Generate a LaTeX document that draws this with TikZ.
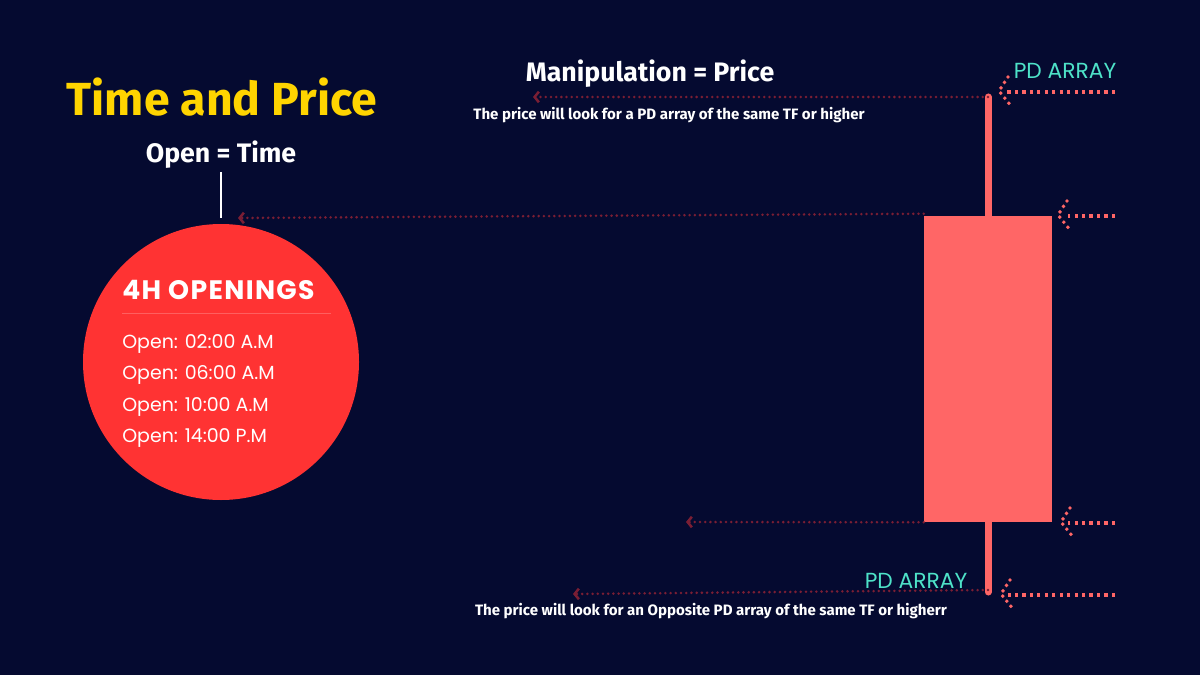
\documentclass[tikz,border=0pt]{standalone}
\usepackage{fontspec}
\setmainfont{Fira Sans}
\newfontfamily\pop{Poppins}
\newfontfamily\popwide[LetterSpace=5]{Poppins}
\usetikzlibrary{arrows.meta,positioning}

\definecolor{navy}{RGB}{5,10,48}
\definecolor{gold}{RGB}{255,212,0}
\definecolor{openred}{RGB}{255,51,51}
\definecolor{rulered}{RGB}{255,95,95}
\definecolor{candle}{RGB}{255,102,102}
\definecolor{pulldots}{RGB}{122,30,52}
\definecolor{pdcyan}{RGB}{78,226,200}

\begin{document}
\begin{tikzpicture}[x=0.025cm,y=-0.025cm]

\tikzset{
  pull/.style={draw=pulldots, line width=2pt, line cap=round,
    dash pattern=on 0pt off 3.7pt,
    -{Straight Barb[length=3pt,width=7.5pt,line width=1.8pt]}},
  push/.style={draw=candle, line width=2.3pt, dash pattern=on 2.3pt off 3pt},
  hookdots/.style={draw=candle, line width=2.8pt, line cap=round,
    dash pattern=on 0pt off 4.6pt},
  hook/.pic={\draw[hookdots] (9,-14) -- (0,0) -- (12,15);},
  headline/.style={text=white, font=\bfseries\fontsize{19}{23}\selectfont},
  note/.style={text=white, font=\bfseries\fontsize{10.7}{12}\selectfont},
  pdlabel/.style={text=pdcyan, font=\pop\fontsize{15.5}{18}\selectfont},
  opening/.style={text=white, anchor=west, inner sep=0pt,
    font=\pop\fontsize{13.5}{16}\selectfont}
}

\useasboundingbox (0,0) rectangle (1200,675);
\fill[navy] (0,0) rectangle (1200,675);

% left side: time
\node[text=gold, font=\bfseries\fontsize{33}{38}\selectfont] (title) at (222,97) {Time and Price};
\node[headline] (opentime) at (221,155) {Open = Time};
\node[circle, fill=openred, minimum size=276*0.025cm, inner sep=0pt] (circ) at (221,362) {};
\draw[white, line width=1.5pt] (opentime.south) ++(0,-2) coordinate (stemtop) -- (stemtop |- 0,218);

\node[text=white, anchor=west, inner sep=0pt, font=\popwide\bfseries\fontsize{19}{22}\selectfont] (openings) at (122,290) {4H OPENINGS};
\draw[rulered, line width=0.6pt] (122,313) -- (331,313);
\node[opening] (open1) at (122,344) {Open: 02:00 A.M};
\node[opening] (open2) at (122,375) {Open: 06:00 A.M};
\node[opening] (open3) at (122,407) {Open: 10:00 A.M};
\node[opening] (open4) at (122,438) {Open: 14:00 P.M};

% candle
\node[fill=candle, minimum width=128*0.025cm, minimum height=306*0.025cm, inner sep=0pt] (body) at (988,369) {};
\coordinate (wicktop) at (988,97);
\coordinate (wickbot) at (988,592);
\draw[candle, line width=5pt, line cap=round] (wicktop) -- (wickbot);

% pulls to the left
\node[headline] (manip) at (650,74) {Manipulation = Price};
\node[note] (notetop) at (669,115) {The price will look for a PD array of the same TF or higher};
\node[note] (notebot) at (711,611) {The price will look for an Opposite PD array of the same TF or higherr};
\coordinate (toparrow) at (533,97);
\coordinate (openarrow) at (238,218);
\coordinate (lowarrow) at (686,522);
\coordinate (opparrow) at (573,594);
\draw[pull] (wicktop) -- (toparrow);
\draw[pull] (body.north west) ++(0,-2) -- (openarrow);
\draw[pull] (body.south west) -- (lowarrow);
\draw[pull] (wickbot) ++(0,-2) -- (opparrow);

% pd arrays from the right
\node[pdlabel] (pdtop) at (1065,71) {PD ARRAY};
\node[pdlabel] (pdbot) at (916,581) {PD ARRAY};
\coordinate (in1) at (1115,92);
\coordinate (in2) at (1115,216);
\coordinate (in3) at (1115,523);
\coordinate (in4) at (1115,595);
\draw[push] (in1) -- (1005,92);
\draw[push] (in2) -- (1068,216);
\draw[push] (in3) -- (1068,523);
\draw[push] (in4) -- (1008,595);
\pic at (999,91) {hook};
\pic at (1058,215) {hook};
\pic at (1061,522) {hook};
\pic at (1001,594) {hook};

\end{tikzpicture}
\end{document}
